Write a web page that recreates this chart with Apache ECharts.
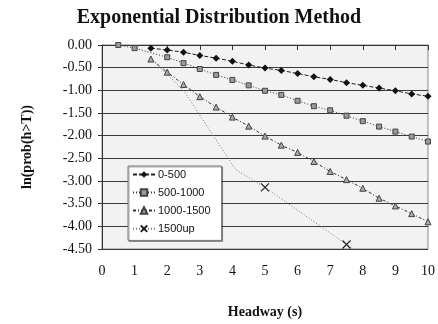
<!DOCTYPE html>
<html>
<head>
<meta charset="utf-8">
<script src="https://cdn.jsdelivr.net/npm/echarts@6/dist/echarts.min.js"></script>
<style>
  html, body { margin: 0; padding: 0; background: #fff; }
  #chart { width: 438px; height: 324px; }
</style>
</head>
<body>
<div id="chart"></div>
<script>
// headway (s) and ln(prob(h>T)) per volume class
var hw0500 = [1.5, 2, 2.5, 3, 3.5, 4, 4.5, 5, 5.5, 6, 6.5, 7, 7.5, 8, 8.5, 9, 9.5, 10];
var ln0500 = [-0.07, -0.11, -0.16, -0.23, -0.29, -0.36, -0.44, -0.51, -0.56, -0.63, -0.70, -0.76, -0.83, -0.89, -0.95, -1.01, -1.08, -1.13];

var hw5001000 = [0.5, 1, 2, 2.5, 3, 3.5, 4, 4.5, 5, 5.5, 6, 6.5, 7, 7.5, 8, 8.5, 9, 9.5, 10];
var ln5001000 = [0.00, -0.07, -0.27, -0.40, -0.53, -0.66, -0.77, -0.89, -1.01, -1.10, -1.23, -1.35, -1.44, -1.56, -1.68, -1.80, -1.91, -2.02, -2.13];

var hw10001500 = [1.5, 2, 2.5, 3, 3.5, 4, 4.5, 5, 5.5, 6, 6.5, 7, 7.5, 8, 8.5, 9, 9.5, 10];
var ln10001500 = [-0.31, -0.60, -0.87, -1.14, -1.37, -1.59, -1.79, -2.01, -2.21, -2.37, -2.57, -2.79, -2.97, -3.16, -3.38, -3.55, -3.72, -3.90];

var hw1500up = [1.5, 2.5, 4.1, 5, 7.5, 10];
var ln1500up = [-0.30, -1.00, -2.75, -3.14, -4.40, -5.60];
var marked1500up = [false, false, false, true, true, false];

var seriesNames = ['0-500', '500-1000', '1000-1500', '1500up'];

function pairs(xs, ys) {
    return xs.map(function (x, i) { return [x, ys[i]]; });
}

var serif = 'Liberation Serif';
var sans = 'Liberation Sans';
var xMark = 'path://M0,0L10,10M10,0L0,10';

var myChart = echarts.init(document.getElementById('chart'));
var option = {
    backgroundColor: '#fff',
    animation: false,
    title: {
        text: 'Exponential Distribution Method',
        left: 'center',
        top: 3,
        textStyle: { fontFamily: serif, fontSize: 20, fontWeight: 'bold', color: '#111' }
    },
    legend: {
        orient: 'vertical',
        left: 128,
        top: 166,
        padding: [3, 11, 6, 4],
        itemGap: 7,
        itemWidth: 22,
        itemHeight: 8,
        backgroundColor: '#fff',
        borderColor: '#777',
        borderWidth: 1,
        shadowColor: 'rgba(0,0,0,0.35)',
        shadowOffsetX: 1,
        shadowOffsetY: 1,
        textStyle: { fontFamily: sans, fontSize: 11, color: '#111', padding: [0, 0, 0, -2] },
        data: seriesNames
    },
    grid: {
        left: 102,
        right: 8,
        top: 45,
        bottom: 71,
        show: true,
        backgroundColor: '#f2f2f2',
        borderColor: '#888',
        borderWidth: 1
    },
    xAxis: {
        type: 'value',
        min: 0,
        max: 10,
        interval: 1,
        name: 'Headway (s)',
        nameLocation: 'middle',
        nameGap: 56,
        nameTextStyle: { fontFamily: serif, fontSize: 14, fontWeight: 'bold', color: '#111' },
        axisLine: { lineStyle: { color: '#333', width: 1 } },
        axisTick: { show: true, length: 5, lineStyle: { color: '#333' } },
        axisLabel: { margin: 15, fontFamily: serif, fontSize: 14, color: '#111' },
        splitLine: { show: false }
    },
    yAxis: {
        type: 'value',
        min: -4.5,
        max: 0,
        interval: 0.5,
        name: 'ln(prob(h>T))',
        nameLocation: 'middle',
        nameGap: 68,
        nameRotate: 90,
        nameTextStyle: { fontFamily: serif, fontSize: 14, fontWeight: 'bold', color: '#111' },
        axisLine: { show: true, lineStyle: { color: '#333', width: 1 } },
        axisTick: { show: true, inside: false, length: 4, lineStyle: { color: '#333' } },
        axisLabel: {
            margin: 10,
            fontFamily: serif,
            fontSize: 14,
            color: '#111',
            formatter: function (v) { return v.toFixed(2); }
        },
        splitLine: { show: true, lineStyle: { color: '#3a3a3a', width: 1 } }
    },
    series: [
        {
            name: seriesNames[0],
            type: 'line',
            data: pairs(hw0500, ln0500),
            symbol: 'diamond',
            symbolSize: 7,
            itemStyle: { color: '#111' },
            lineStyle: { color: '#222', width: 1, type: [4, 2] }
        },
        {
            name: seriesNames[1],
            type: 'line',
            data: pairs(hw5001000, ln5001000),
            symbol: 'rect',
            symbolSize: 5,
            itemStyle: { color: '#9a9a9a', borderColor: '#444', borderWidth: 1 },
            lineStyle: { color: '#333', width: 1, type: [1, 2] }
        },
        {
            name: seriesNames[2],
            type: 'line',
            data: pairs(hw10001500, ln10001500),
            symbol: 'triangle',
            symbolSize: 6,
            itemStyle: { color: '#aaa', borderColor: '#444', borderWidth: 1 },
            lineStyle: { color: '#333', width: 1, type: [3, 2, 1, 2] }
        },
        {
            name: seriesNames[3],
            type: 'line',
            data: pairs(hw1500up, ln1500up).map(function (p, i) {
                return marked1500up[i] ? { value: p } : { value: p, symbol: 'none' };
            }),
            symbol: xMark,
            symbolSize: 8,
            itemStyle: { color: 'none', borderColor: '#222', borderWidth: 1.2 },
            lineStyle: { color: '#777', width: 1, type: [1, 2] }
        }
    ]
};
myChart.setOption(option);
</script>
</body>
</html>
